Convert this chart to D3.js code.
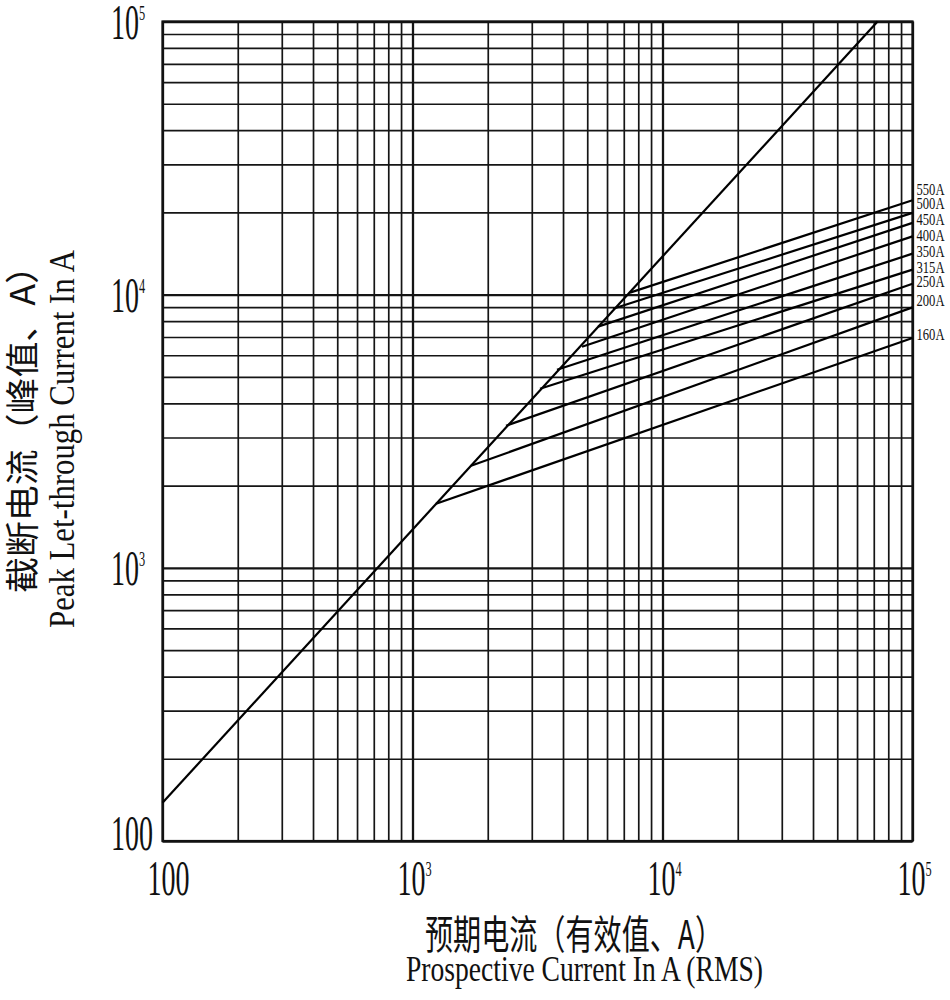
<!DOCTYPE html>
<html>
<head>
<meta charset="utf-8">
<script src="https://cdn.jsdelivr.net/npm/d3@7"></script>
<style>
body{margin:0;background:#fff;}
.serif{font-family:"Liberation Serif","Times New Roman",serif;fill:#111;}
.cjk{font-family:"Noto Sans CJK SC",sans-serif;fill:#111;}
</style>
</head>
<body>
<svg id="chart" width="950" height="1000"></svg>
<script>
// axis ranges and decade labels
var xDomain = [100, 100000];
var yDomain = [100, 100000];
var decadeTicks = [100, 1000, 10000, 100000];
var tickBase = ["100", "10", "10", "10"];
var tickExp = ["", "3", "4", "5"];

// prospective peak line (no fuse)
var peakX = [100, 72500];
var peakY = [138, 100000];

// cut-off lines per fuse rating: start on the peak line, end at 10^5
var fuseRatings = ["160A", "200A", "250A", "315A", "350A", "400A", "450A", "500A", "550A"];
var cutStartX = [1242, 1714, 2366, 3236, 3784, 4764, 5521, 6339, 7413];
var cutStartY = [1716, 2363, 3313, 4525, 5314, 6450, 7636, 8886, 10170];
var cutEndX = [100000, 100000, 100000, 100000, 100000, 100000, 100000, 100000, 100000];
var cutEndY = [6940, 8985, 10970, 12350, 14130, 16350, 18310, 19920, 22150];
// where each rating label sits (A)
var labelAt = [7195, 9590, 11250, 12660, 14500, 16590, 18980, 21730, 24450];

// plot box ("top" is taken by window.top, so prefixed names)
var plotL = 162.5, plotR = 912.5, plotT = 21.5, plotB = 841;

var svg = d3.select("#chart");
var x = d3.scaleLog().domain(xDomain).range([plotL, plotR]);
var y = d3.scaleLog().domain(yDomain).range([plotB, plotT]);

function isDecade(v) {
	var l = Math.log10(v);
	return Math.abs(l - Math.round(l)) < 1e-9;
}

// grid from the axes
var gx = svg.append("g")
	.attr("transform", "translate(0," + plotB + ")")
	.call(d3.axisBottom(x).tickSize(-(plotB - plotT)).tickFormat(""));
var gy = svg.append("g")
	.attr("transform", "translate(" + plotL + ",0)")
	.call(d3.axisLeft(y).tickSize(-(plotR - plotL)).tickFormat(""));
[gx, gy].forEach(function(g) {
	g.select(".domain").remove();
	g.selectAll(".tick line")
		.attr("stroke", "#151515")
		.attr("stroke-width", function(d) { return isDecade(d) ? 2.3 : 1.7; });
});

svg.append("rect")
	.attr("x", plotL).attr("y", plotT)
	.attr("width", plotR - plotL).attr("height", plotB - plotT)
	.attr("fill", "none").attr("stroke", "#111").attr("stroke-width", 2.2);

var line = d3.line().x(function(d) { return x(d[0]); }).y(function(d) { return y(d[1]); });

svg.append("path")
	.attr("d", line([[peakX[0], peakY[0]], [peakX[1], peakY[1]]]))
	.attr("fill", "none").attr("stroke", "#000").attr("stroke-width", 2.2);

svg.append("g").selectAll("path")
	.data(fuseRatings)
	.join("path")
	.attr("d", function(d, i) { return line([[cutStartX[i], cutStartY[i]], [cutEndX[i], cutEndY[i]]]); })
	.attr("fill", "none").attr("stroke", "#000").attr("stroke-width", 2.2);

svg.append("g").selectAll("text")
	.data(fuseRatings)
	.join("text")
	.attr("class", "serif")
	.attr("x", plotR + 4)
	.attr("y", function(d, i) { return y(labelAt[i]); })
	.attr("dy", "0.35em")
	.attr("font-size", 17)
	.attr("textLength", 28)
	.attr("lengthAdjust", "spacingAndGlyphs")
	.text(function(d) { return d; });

// tick labels: narrow serif, "10" with superscript
function tickLabel(g, tx, ty, i) {
	var t = g.append("text")
		.attr("class", "serif")
		.attr("transform", "translate(" + tx + "," + ty + ") scale(0.56,1)")
		.attr("font-size", 50);
	t.append("tspan").text(tickBase[i]);
	if (tickExp[i]) {
		t.append("tspan").attr("font-size", 22).attr("dy", -19).text(tickExp[i]);
	}
}
var xl = svg.append("g");
decadeTicks.forEach(function(v, i) { tickLabel(xl, x(v) - 15, 895, i); });
var yl = svg.append("g");
decadeTicks.forEach(function(v, i) { tickLabel(yl, 111, Math.min(y(v) + 17, 850), i); });

// axis titles
svg.append("text").attr("class", "cjk")
	.attr("x", 425).attr("y", 949)
	.attr("font-size", 40)
	.attr("textLength", 298).attr("lengthAdjust", "spacingAndGlyphs")
	.text("预期电流（有效值、A）");
svg.append("text").attr("class", "serif")
	.attr("x", 406).attr("y", 981)
	.attr("font-size", 35)
	.attr("textLength", 357).attr("lengthAdjust", "spacingAndGlyphs")
	.text("Prospective Current In A (RMS)");

svg.append("text").attr("class", "cjk")
	.attr("transform", "translate(35,593) rotate(-90)")
	.attr("font-size", 34)
	.attr("textLength", 345).attr("lengthAdjust", "spacingAndGlyphs")
	.text("截断电流（峰值、A）");
svg.append("text").attr("class", "serif")
	.attr("transform", "translate(74,628) rotate(-90)")
	.attr("font-size", 36)
	.attr("textLength", 378).attr("lengthAdjust", "spacingAndGlyphs")
	.text("Peak Let-through Current In A");
</script>
</body>
</html>
